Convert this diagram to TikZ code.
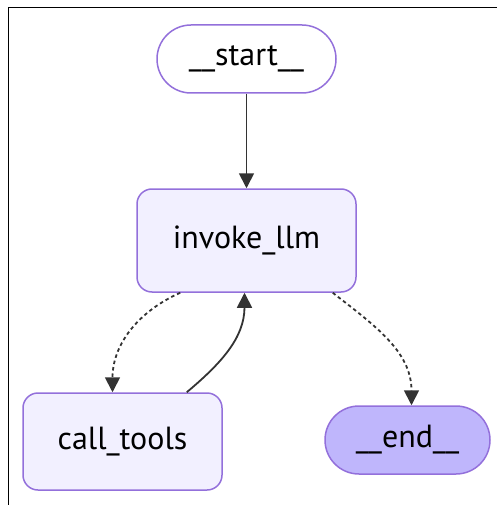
\documentclass[tikz,border=0pt]{standalone}
\usepackage{fontspec}
\setmainfont{PT Sans}
\usepackage{tikz}
\usetikzlibrary{arrows.meta}
\definecolor{nodeline}{HTML}{9370DB}
\definecolor{nodefill}{HTML}{F2F0FF}
\definecolor{lastfill}{HTML}{BFB6FC}
\definecolor{edgecol}{HTML}{333333}
\begin{document}
\begin{tikzpicture}[x=1pt,y=1pt,>={Triangle[length=15pt,width=15pt]},
    state/.style={draw=nodeline,line width=1.5pt,fill=nodefill,rounded corners=15pt,
      inner sep=0pt,font=\fontsize{32}{38}\selectfont},
    pill/.style={state,rounded corners=34pt,minimum height=68pt},
    edge/.style={draw=edgecol,line width=1.8pt},
    cond/.style={edge,dash pattern=on 3.5pt off 3pt}]
    \useasboundingbox (0,0) rectangle (497,-505);
    \draw[line width=1pt](8.5,-505)--(8.5,-8)--(497,-8);
    % nodes
    \node[pill,fill=white,minimum width=179pt] (start) at (246.5,-59) {\_\_start\_\_};
    \node[state,minimum width=219pt,minimum height=103pt] (invoke) at (246.5,-240.5) {invoke\_llm};
    \node[state,minimum width=199pt,minimum height=97pt] (tools) at (122.5,-441.5) {call\_tools};
    \node[pill,fill=lastfill,minimum width=165pt] (finish) at (407.5,-440) {\_\_end\_\_};
    % edges
    \draw[edge,->](start)--(invoke);
    \draw[cond,->]([xshift=44pt]invoke.south west) to[out=204,in=90] ([xshift=-10pt]tools.north);
    \draw[edge,->]([xshift=-36pt]tools.north east) to[out=40,in=-90] ([xshift=-2pt]invoke.south);
    \draw[cond,->]([xshift=-24pt]invoke.south east) to[out=-38,in=90] ([xshift=4pt]finish.north);
\end{tikzpicture}
\end{document}
